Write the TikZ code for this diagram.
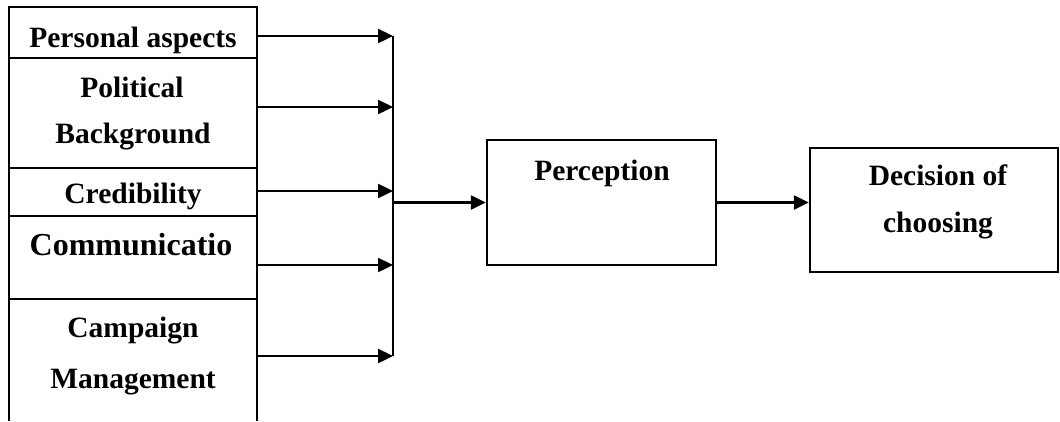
\documentclass[tikz,border=0pt]{standalone}
\usepackage{fontspec}
\setmainfont{Liberation Serif}
\usetikzlibrary{arrows.meta}
\begin{document}
\begin{tikzpicture}[x=1pt,y=-1pt, line width=2.4pt,
 arr/.style={-{Triangle[length=15pt,width=14pt]}},
 lbl/.style={font=\fontsize{29.5}{30}\selectfont\bfseries, anchor=base, inner sep=0pt},
 biglbl/.style={lbl, font=\fontsize{32}{33}\selectfont\bfseries},
 box/.style={draw, line width=2.4pt, rectangle, inner sep=0pt}]
\useasboundingbox (0,0) rectangle (1060,421);
% left column cells
\node[box, minimum width=248pt, minimum height=51pt] (c1) at (133,32.5) {};
\node[box, minimum width=248pt, minimum height=110pt] (c2) at (133,113) {};
\node[box, minimum width=248pt, minimum height=48pt] (c3) at (133,192) {};
\node[box, minimum width=248pt, minimum height=83pt] (c4) at (133,257.5) {};
\coordinate (c5tl) at (9,299);
\coordinate (c5tr) at (257,299);
\coordinate (c5bl) at (9,421);
\coordinate (c5br) at (257,421);
\draw (c5bl) -- (c5tl) -- (c5tr) -- (c5br);
% labels
\node[lbl] (t1) at (133,47) {Personal aspects};
\node[lbl] (t2a) at (132,97) {Political};
\node[lbl] (t2b) at (133,143) {Background};
\node[lbl] (t3) at (133,203) {Credibility};
\node[biglbl] (t4) at (131,255) {Communicatio};
\node[lbl] (t5a) at (133,337) {Campaign};
\node[lbl] (t5b) at (133,388) {Management};
% junction
\coordinate (j1) at (393,36);
\coordinate (j2) at (393,107);
\coordinate (j3) at (393,191);
\coordinate (j4) at (393,265);
\coordinate (j5) at (393,356);
\draw[arr] (c1.east |- j1) -- (j1);
\draw[arr] (c2.east |- j2) -- (j2);
\draw[arr] (c3.east |- j3) -- (j3);
\draw[arr] (c4.east |- j4) -- (j4);
\draw[arr] (c5tr |- j5) -- (j5);
\draw (j1) -- (j5);
% right boxes
\node[box, minimum width=229pt, minimum height=125pt] (perc) at (601.5,202.5) {};
\node[box, minimum width=248pt, minimum height=124pt] (dec) at (934,210) {};
\node[lbl] (tp) at (602,180) {Perception};
\node[lbl] (td1) at (938,185) {Decision of};
\node[lbl] (td2) at (938,232) {choosing};
\draw[arr] (j1 |- perc.west) -- (perc.west);
\draw[arr] (perc.east) -- (perc.east -| dec.west);
\end{tikzpicture}
\end{document}
